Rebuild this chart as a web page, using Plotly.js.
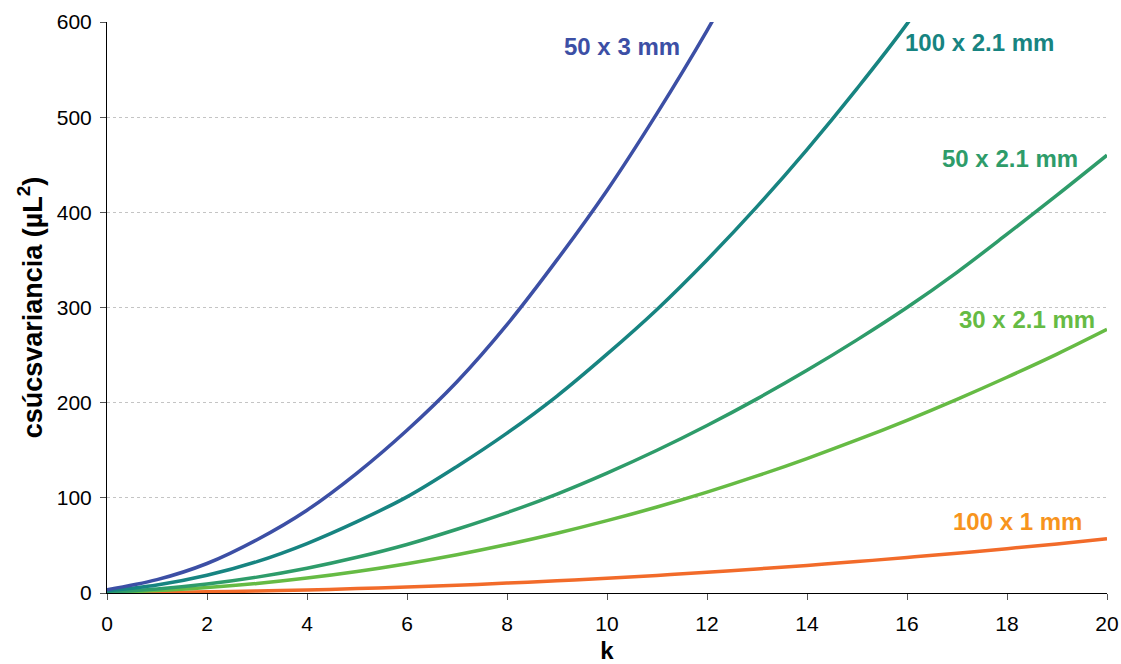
<!DOCTYPE html>
<html>
<head>
<meta charset="utf-8">
<script src="https://cdn.plot.ly/plotly-3.0.1.min.js"></script>
<style>html,body{margin:0;padding:0;background:#fff;}#chart{width:1121px;height:664px;}</style>
</head>
<body>
<div id="chart"></div>
<script>
const k = [0,1,2,3,4,5,6,7,8,9,10,11,12,13,14,15,16,17,18,19,20];
const seriesNames = ["100 x 1 mm","30 x 2.1 mm","50 x 2.1 mm","100 x 2.1 mm","50 x 3 mm"];
const v100x1  = [0.13,0.5,1.2,2.1,3.2,4.6,6.3,8.2,10.4,12.8,15.6,18.5,21.8,25.3,29,33,37.3,41.8,46.6,51.6,57];
const v30x21  = [0.6,2.5,5.7,10,15.7,22.6,30.8,40.2,50.9,62.8,76,90.4,106,123,141.3,160.8,181.5,203.5,226.7,251,277];
const v50x21  = [1.0,4.2,9.4,16.7,26,37.5,51,67,84.5,104,126,150,176,204,234,266,300,337,377,418,460];
const v100x21 = [2.1,8.3,18.6,33,52,75,101,133,168,207,251,298,350,406,466,530,598,675];
const v50x3   = [3.5,14,31,56,87,126,171,222,282,350,423,504,591,686];
const colors = ["#F26B2A","#66BB44","#2E9C6A","#178481","#3C4FA5"];
const labelColors = ["#F7941D","#66BB44","#2E9C6A","#178481","#3C4FA5"];
const labelX = [18.21,18.4,18.06,17.44,10.3];
const labelY = [75.5,287,457,578,574];
const vals = [v100x1,v30x21,v50x21,v100x21,v50x3];

const traces = vals.map((v,i)=>({
  x: k.slice(0,v.length), y: v, type:'scatter', mode:'lines',
  name: seriesNames[i],
  line:{color:colors[i], width:3.5, shape:'spline', smoothing:1}
}));

const annotations = seriesNames.map((n,i)=>({
  x: labelX[i], y: labelY[i], xref:'x', yref:'y', text:'<b>'+n+'</b>', showarrow:false,
  font:{family:'Liberation Sans, Arial, sans-serif', size:24, color:labelColors[i]},
  xanchor:'center', yanchor:'middle'
}));

const layout = {
  width:1121, height:664,
  margin:{l:107,r:14,t:22,b:71},
  paper_bgcolor:'#fff', plot_bgcolor:'#fff',
  showlegend:false,
  font:{family:'Liberation Sans, Arial, sans-serif', color:'#000'},
  xaxis:{range:[0,20], dtick:2, tick0:0, showgrid:false, zeroline:false,
    showline:true, linecolor:'#000', linewidth:1, ticks:'outside', ticklen:6, tickcolor:'#555',
    ticklabelstandoff:6,
    tickfont:{size:21}, title:{text:'<b>k</b>', font:{size:24}, standoff:8}},
  yaxis:{range:[0,600], dtick:100, tick0:0, showgrid:true, gridcolor:'#C4C4C4', griddash:'3px,3px', gridwidth:1,
    zeroline:false, showline:true, linecolor:'#000', linewidth:1, ticks:'outside', ticklen:6, tickcolor:'#555',
    ticklabelstandoff:4,
    tickfont:{size:21}, title:{text:'<b>csúcsvariancia (µL<sup>2</sup>)</b>', font:{size:27}, standoff:6}},
  annotations: annotations
};
Plotly.newPlot('chart', traces, layout, {displayModeBar:false, staticPlot:true});
</script>
</body>
</html>
